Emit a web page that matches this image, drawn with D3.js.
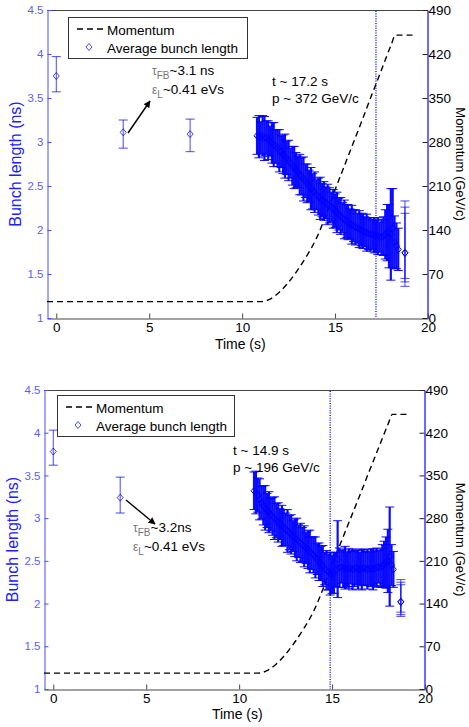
<!DOCTYPE html>
<html>
<head>
<meta charset="utf-8">
<script src="https://cdn.jsdelivr.net/npm/d3@7"></script>
<style>
  body { margin: 0; background: #fff; }
  text { font-family: "Liberation Sans", Arial, sans-serif; }
</style>
</head>
<body>
<svg id="chart" width="469" height="727"></svg>
<script>
// ---- data ----
var timeTicks = [0, 5, 10, 15, 20];
var lenTicks = [1, 1.5, 2, 2.5, 3, 3.5, 4, 4.5];
var momTicks = [0, 70, 140, 210, 280, 350, 420, 490];

// momentum ramp, same cycle in both panels
var rampTime = [-0.5, 11.0, 11.5, 12.0, 12.5, 13.0, 13.5, 14.0, 14.5, 14.9, 15.5, 16.0, 16.5, 17.0, 17.2, 17.5, 18.0, 18.25, 19.2];
var rampMom  = [26, 26, 30, 41, 57, 77, 100, 127, 163, 196, 242, 280, 318, 357, 372, 395, 433, 450, 450];

// top panel: bunch length during the ramp
var topBandTime = [10.8, 10.9, 11.0, 11.1, 11.2, 11.3, 11.4, 11.5, 11.6, 11.7, 11.8, 11.9,
  12.0, 12.1, 12.2, 12.3, 12.4, 12.5, 12.6, 12.7, 12.8, 12.9, 13.0, 13.1, 13.2, 13.3, 13.4,
  13.5, 13.6, 13.7, 13.8, 13.9, 14.0, 14.1, 14.2, 14.3, 14.4, 14.5, 14.6, 14.7, 14.8, 14.9,
  15.0, 15.1, 15.2, 15.3, 15.4, 15.5, 15.6, 15.7, 15.8, 15.9, 16.0, 16.1, 16.2, 16.3, 16.4,
  16.5, 16.6, 16.7, 16.8, 16.9, 17.0, 17.1, 17.2, 17.3, 17.4, 17.5, 17.6, 17.7, 17.8, 17.9,
  18.0, 18.1, 18.2, 18.3, 18.4];
var topBandLen = [3.07, 3.06, 3.05, 3.07, 3.04, 3.05, 3.02, 3.01, 2.99, 2.97, 2.95, 2.93,
  2.90, 2.89, 2.86, 2.84, 2.82, 2.79, 2.76, 2.73, 2.71, 2.68, 2.66, 2.63, 2.61, 2.58, 2.56,
  2.53, 2.50, 2.47, 2.44, 2.43, 2.40, 2.38, 2.36, 2.34, 2.33, 2.31, 2.29, 2.28, 2.26, 2.24,
  2.22, 2.20, 2.18, 2.16, 2.14, 2.12, 2.10, 2.09, 2.07, 2.06, 2.05, 2.03, 2.02, 2.01, 2.00,
  1.99, 1.98, 1.97, 1.96, 1.95, 1.95, 1.94, 1.93, 1.93, 1.92, 1.92, 1.93, 1.95, 1.97, 1.93,
  1.95, 2.02, 1.86, 1.82, 1.78];
var topBandErr = [0.21, 0.24, 0.18, 0.23, 0.25, 0.19, 0.22, 0.17, 0.23, 0.25, 0.19, 0.21,
  0.24, 0.18, 0.22, 0.25, 0.19, 0.23, 0.17, 0.22, 0.24, 0.20, 0.18, 0.23, 0.21, 0.25, 0.19,
  0.22, 0.18, 0.24, 0.20, 0.23, 0.17, 0.21, 0.24, 0.19, 0.22, 0.18, 0.23, 0.20, 0.17, 0.22,
  0.19, 0.23, 0.18, 0.21, 0.17, 0.22, 0.19, 0.20, 0.17, 0.22, 0.18, 0.20, 0.17, 0.21, 0.18,
  0.20, 0.17, 0.21, 0.18, 0.19, 0.17, 0.20, 0.18, 0.21, 0.17, 0.20, 0.22, 0.28, 0.32, 0.36,
  0.52, 0.45, 0.30, 0.26, 0.24];
var topIsoTime = [0, 3.6, 7.2, 18.76, 18.76, 18.76];
var topIsoLen  = [3.75, 3.11, 3.09, 1.74, 1.74, 1.74];
var topIsoLo   = [3.57, 2.93, 2.89, 1.36, 1.41, 1.45];
var topIsoHi   = [3.97, 3.25, 3.26, 2.33, 2.26, 2.19];

// bottom panel
var botBandTime = [10.8, 10.9, 11.0, 11.1, 11.2, 11.3, 11.4, 11.5, 11.6, 11.7, 11.8, 11.9,
  12.0, 12.1, 12.2, 12.3, 12.4, 12.5, 12.6, 12.7, 12.8, 12.9, 13.0, 13.1, 13.2, 13.3, 13.4,
  13.5, 13.6, 13.7, 13.8, 13.9, 14.0, 14.1, 14.2, 14.3, 14.4, 14.5, 14.6, 14.7, 14.8, 14.9,
  15.0, 15.1, 15.2, 15.3, 15.4, 15.5, 15.6, 15.7, 15.8, 15.9, 16.0, 16.1, 16.2, 16.3, 16.4,
  16.5, 16.6, 16.7, 16.8, 16.9, 17.0, 17.1, 17.2, 17.3, 17.4, 17.5, 17.6, 17.7, 17.8, 17.9,
  18.0, 18.1, 18.2, 18.3];
var botBandLen = [3.32, 3.30, 3.27, 3.22, 3.18, 3.15, 3.12, 3.09, 3.07, 3.04, 3.02, 3.00,
  2.97, 2.95, 2.93, 2.91, 2.89, 2.87, 2.85, 2.83, 2.81, 2.79, 2.77, 2.75, 2.73, 2.71, 2.69,
  2.67, 2.65, 2.63, 2.61, 2.59, 2.57, 2.54, 2.52, 2.49, 2.47, 2.44, 2.41, 2.39, 2.37, 2.35,
  2.34, 2.36, 2.40, 2.52, 2.42, 2.43, 2.41, 2.42, 2.40, 2.41, 2.42, 2.40, 2.41, 2.42, 2.40,
  2.41, 2.40, 2.42, 2.41, 2.40, 2.41, 2.42, 2.40, 2.41, 2.42, 2.43, 2.42, 2.44, 2.46, 2.48,
  2.50, 2.55, 2.45, 2.40];
var botBandErr = [0.22, 0.25, 0.20, 0.24, 0.19, 0.23, 0.26, 0.20, 0.24, 0.19, 0.22, 0.25,
  0.20, 0.23, 0.18, 0.24, 0.21, 0.19, 0.25, 0.20, 0.23, 0.18, 0.22, 0.25, 0.19, 0.23, 0.20,
  0.24, 0.18, 0.22, 0.25, 0.19, 0.21, 0.24, 0.18, 0.22, 0.20, 0.24, 0.19, 0.23, 0.21, 0.25,
  0.22, 0.24, 0.20, 0.45, 0.23, 0.19, 0.22, 0.25, 0.20, 0.23, 0.19, 0.24, 0.21, 0.20, 0.23,
  0.19, 0.24, 0.21, 0.20, 0.23, 0.19, 0.22, 0.24, 0.20, 0.23, 0.19, 0.22, 0.25, 0.27, 0.30,
  0.37, 0.58, 0.24, 0.21];
var botIsoTime = [0, 3.6, 18.7, 18.7, 18.7];
var botIsoLen  = [3.78, 3.24, 2.02, 2.02, 2.02];
var botIsoLo   = [3.62, 3.06, 1.85, 1.87, 1.90];
var botIsoHi   = [4.03, 3.48, 2.28, 2.25, 2.22];

// ---- layout ----
var svg = d3.select("#chart");
var blue = "#0000ff";

svg.append("defs").append("marker")
    .attr("id", "arrow")
    .attr("viewBox", "0 0 10 10")
    .attr("refX", 9).attr("refY", 5)
    .attr("markerWidth", 7).attr("markerHeight", 7)
    .attr("markerUnits", "userSpaceOnUse")
    .attr("orient", "auto")
  .append("path")
    .attr("d", "M0,0 L10,5 L0,10 Z")
    .attr("fill", "#000");

var panels = [
  {
    left: 47, right: 428, top: 10, bottom: 318,
    bandTime: topBandTime, bandLen: topBandLen, bandErr: topBandErr,
    isoTime: topIsoTime, isoLen: topIsoLen, isoLo: topIsoLo, isoHi: topIsoHi,
    marker: 17.2, mText: ["t ~ 17.2 s", "p ~ 372 GeV/c"], mPos: [272, 86],
    tau: "~3.1 ns", tauPos: [152, 75], arrow: [128, 133, 150, 101],
    legend: [68, 17, 179, 41], ylabX: 21, xlabDy: 31
  },
  {
    left: 44, right: 425, top: 390, bottom: 689,
    bandTime: botBandTime, bandLen: botBandLen, bandErr: botBandErr,
    isoTime: botIsoTime, isoLen: botIsoLen, isoLo: botIsoLo, isoHi: botIsoHi,
    marker: 14.9, mText: ["t ~ 14.9 s", "p ~ 196 GeV/c"], mPos: [233, 455],
    tau: "~3.2ns", tauPos: [133, 532], arrow: [126, 500, 155, 524],
    legend: [57, 395, 177, 41], ylabX: 18, xlabDy: 30
  }
];

var diamond = "M0,-3.5L3,0L0,3.5L-3,0Z";

panels.forEach(function(p) {
  var x = d3.scaleLinear().domain([-0.5, 20]).range([p.left, p.right]);
  var y = d3.scaleLinear().domain([1, 4.5]).range([p.bottom, p.top]);
  var y2 = d3.scaleLinear().domain([0, 490]).range([p.bottom, p.top]);
  var g = svg.append("g");

  // top border
  g.append("line")
    .attr("x1", p.left).attr("x2", p.right)
    .attr("y1", p.top + 0.5).attr("y2", p.top + 0.5)
    .attr("stroke", "#444");

  // x axis
  var xa = g.append("g")
    .attr("transform", `translate(0,${p.bottom + 0.5})`)
    .call(d3.axisBottom(x).tickValues(timeTicks).tickSize(-5).tickSizeOuter(0).tickPadding(4));
  xa.select(".domain").attr("stroke", "#444");
  xa.selectAll(".tick line").attr("stroke", "#444");
  xa.selectAll("text").attr("font-size", 13.5).attr("fill", "#000")
    .style("font-family", "Liberation Sans, Arial, sans-serif");
  g.append("text")
    .attr("x", x(9.9)).attr("y", p.bottom + p.xlabDy)
    .attr("text-anchor", "middle")
    .attr("font-size", 14)
    .text("Time (s)");

  // left axis (bunch length)
  var la = g.append("g")
    .attr("transform", `translate(${p.left + 0.5},0)`)
    .call(d3.axisLeft(y).tickValues(lenTicks).tickSize(-4).tickSizeOuter(0).tickPadding(4).tickFormat(d => String(d)));
  la.select(".domain").attr("stroke", "#4d4dff");
  la.selectAll(".tick line").attr("stroke", "#4d4dff");
  la.selectAll("text").attr("font-size", 11.5).attr("fill", "#5c5cff")
    .style("font-family", "Liberation Sans, Arial, sans-serif");
  g.append("text")
    .attr("transform", `translate(${p.ylabX},${(p.top + p.bottom) / 2}) rotate(-90)`)
    .attr("text-anchor", "middle")
    .attr("font-size", 16)
    .attr("fill", "#2020ff")
    .text("Bunch length (ns)");

  // right axis (momentum)
  var ra = g.append("g")
    .attr("transform", `translate(${p.right - 0.5},0)`)
    .call(d3.axisRight(y2).tickValues(momTicks).tickSize(-5).tickSizeOuter(0).tickPadding(1));
  ra.select(".domain").attr("stroke", "#3a3aff").attr("stroke-width", 1.5);
  ra.selectAll(".tick line").attr("stroke", "#222");
  ra.selectAll("text").attr("font-size", 13.5).attr("fill", "#000")
    .style("font-family", "Liberation Sans, Arial, sans-serif");
  g.append("text")
    .attr("transform", `translate(456,${(p.top + p.bottom) / 2}) rotate(90)`)
    .attr("text-anchor", "middle")
    .attr("font-size", 13)
    .text("Momentum (GeV/c)");

  // vertical marker (dotted)
  g.append("line")
    .attr("x1", x(p.marker)).attr("x2", x(p.marker))
    .attr("y1", p.top + 1).attr("y2", p.bottom)
    .attr("stroke", "#2a2aff")
    .attr("stroke-width", 1.6)
    .attr("stroke-dasharray", "1,1.4");

  // momentum curve
  var ramp = rampTime.map((t, i) => ({t: t, m: rampMom[i]}));
  var line = d3.line()
    .curve(d3.curveMonotoneX)
    .x(d => x(d.t))
    .y(d => y2(d.m));
  g.append("path")
    .datum(ramp)
    .attr("fill", "none")
    .attr("stroke", "#000")
    .attr("stroke-width", 1.4)
    .attr("stroke-dasharray", "6,4")
    .attr("d", line);

  // bunch length points with error bars
  var pts = p.bandTime.map((t, i) => ({t: t, v: p.bandLen[i], lo: p.bandLen[i] - p.bandErr[i], hi: p.bandLen[i] + p.bandErr[i], band: true}))
    .concat(p.isoTime.map((t, i) => ({t: t, v: p.isoLen[i], lo: p.isoLo[i], hi: p.isoHi[i], band: false})));

  var eb = g.append("g")
    .attr("stroke", blue)
    .attr("fill", "none")
    .selectAll("g")
    .data(pts)
    .join("g")
    .attr("stroke-opacity", d => d.band ? 0.95 : 0.72)
    .attr("transform", d => `translate(${x(d.t)},0)`);
  eb.append("line")
    .attr("stroke-width", d => d.band ? 2.2 : 1)
    .attr("y1", d => y(d.lo)).attr("y2", d => y(d.hi));
  eb.append("line")
    .attr("x1", -4.5).attr("x2", 4.5)
    .attr("y1", d => y(d.lo)).attr("y2", d => y(d.lo));
  eb.append("line")
    .attr("x1", -4.5).attr("x2", 4.5)
    .attr("y1", d => y(d.hi)).attr("y2", d => y(d.hi));
  eb.append("path")
    .attr("transform", d => `translate(0,${y(d.v)})`)
    .attr("d", diamond);

  // annotations
  g.append("text")
    .attr("x", p.mPos[0]).attr("y", p.mPos[1])
    .attr("font-size", 13.5)
    .text(p.mText[0]);
  g.append("text")
    .attr("x", p.mPos[0]).attr("y", p.mPos[1] + 17)
    .attr("font-size", 13.5)
    .text(p.mText[1]);

  var t1 = g.append("text")
    .attr("x", p.tauPos[0]).attr("y", p.tauPos[1])
    .attr("font-size", 13.5);
  t1.append("tspan").attr("fill", "#777").attr("font-size", 12).text("τ");
  t1.append("tspan").attr("fill", "#777").attr("font-size", 10).attr("dy", 4).text("FB");
  t1.append("tspan").attr("dy", -4).text(p.tau);
  var t2 = g.append("text")
    .attr("x", p.tauPos[0]).attr("y", p.tauPos[1] + 19)
    .attr("font-size", 13.5);
  t2.append("tspan").attr("fill", "#777").attr("font-size", 12).text("ε");
  t2.append("tspan").attr("fill", "#777").attr("font-size", 10).attr("dy", 4).text("L");
  t2.append("tspan").attr("dy", -4).text("~0.41 eVs");

  g.append("line")
    .attr("x1", p.arrow[0]).attr("y1", p.arrow[1])
    .attr("x2", p.arrow[2]).attr("y2", p.arrow[3])
    .attr("stroke", "#000")
    .attr("stroke-width", 1.4)
    .attr("marker-end", "url(#arrow)");

  // legend
  var lg = g.append("g").attr("transform", `translate(${p.legend[0]},${p.legend[1]})`);
  lg.append("rect")
    .attr("x", 0.5).attr("y", 0.5)
    .attr("width", p.legend[2]).attr("height", p.legend[3])
    .attr("fill", "#fff").attr("stroke", "#333");
  lg.append("line")
    .attr("x1", 9).attr("x2", 37).attr("y1", 12).attr("y2", 12)
    .attr("stroke", "#000").attr("stroke-width", 1.4)
    .attr("stroke-dasharray", "6,4");
  lg.append("text").attr("x", 39).attr("y", 17.5).attr("font-size", 13.5).text("Momentum");
  lg.append("path")
    .attr("transform", "translate(21,30)")
    .attr("d", diamond)
    .attr("fill", "none")
    .attr("stroke", blue)
    .attr("stroke-opacity", 0.72);
  lg.append("text").attr("x", 39).attr("y", 35.5).attr("font-size", 13.5).text("Average bunch length");
});
</script>
</body>
</html>
